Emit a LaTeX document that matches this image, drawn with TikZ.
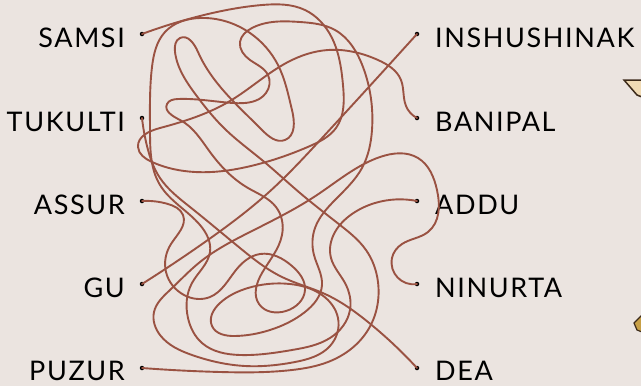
\documentclass[tikz,border=0pt]{standalone}
\usepackage{fontspec}
\setmainfont{Lato}[LetterSpace=6]
\usetikzlibrary{hobby}
\definecolor{bg}{RGB}{235,228,224}
\definecolor{wire}{RGB}{154,82,66}
\definecolor{darkedge}{RGB}{60,42,26}
\definecolor{beige}{RGB}{240,218,180}
\definecolor{gold}{RGB}{200,160,70}
\begin{document}
\begin{tikzpicture}[x=1pt,y=-1pt,
  wirestyle/.style={draw=wire, line width=1.9pt, line cap=round, line join=round, use Hobby shortcut},
  dotstyle/.style={circle, fill=black, inner sep=0pt, minimum size=4.5pt},
  lbl/.style={font=\fontsize{27}{30}\selectfont, text=black, inner sep=0pt, text depth=0pt}]
\fill[bg] (0,0) rectangle (641,386);
\useasboundingbox (0,0) rectangle (641,386);
% dots
\node[dotstyle] (samsi) at (142,34) {};
\node[dotstyle] (tukulti) at (142,118) {};
\node[dotstyle] (assur) at (142,201) {};
\node[dotstyle] (gu) at (142,284) {};
\node[dotstyle] (puzur) at (142,368) {};
\node[dotstyle] (inshu) at (417,34) {};
\node[dotstyle] (banipal) at (417,118) {};
\node[dotstyle] (addu) at (417,201) {};
\node[dotstyle] (ninurta) at (417,284) {};
\node[dotstyle] (dea) at (417,368) {};
% labels
\node[lbl, anchor=base east] (samsiL) at (125,47) {SAMSI};
\node[lbl, anchor=base east] (tukultiL) at (125,131) {TUKULTI};
\node[lbl, anchor=base east] (assurL) at (125,214) {ASSUR};
\node[lbl, anchor=base east] (guL) at (125,297) {GU};
\node[lbl, anchor=base east] (puzurL) at (125,380) {PUZUR};
\node[lbl, anchor=base west] (inshuL) at (435,47) {INSHUSHINAK};
\node[lbl, anchor=base west] (banipalL) at (435,131) {BANIPAL};
\node[lbl, anchor=base west] (adduL) at (435,214) {ADDU};
\node[lbl, anchor=base west] (ninurtaL) at (435,297) {NINURTA};
\node[lbl, anchor=base west] (deaL) at (435,380) {DEA};
% wires
% SAMSI -> BANIPAL
\draw[wirestyle] (samsi.center) .. (200,16) .. (262,5) .. (305,10) .. (332,38) .. (343,85) .. (336,128) .. (310,146) .. (255,165) .. (195,172) .. (152,162) .. (138,147) .. (160,128) .. (230,101) .. (288,62) .. (328,50) .. (378,60) .. (401,80) .. (406,106) .. (banipal.center);
% TUKULTI -> DEA
\draw[wirestyle] (tukulti.center) .. (147,146) .. (160,178) .. (190,207) .. (240,248) .. (282,277) .. (325,294) .. (368,322) .. (dea.center);
% ASSUR -> NINURTA
\draw[wirestyle] (assur.center) .. (168,204) .. (183,215) .. (171,244) .. (166,272) .. (184,295) .. (210,297) .. (236,270) .. (260,254) .. (292,266) .. (305,290) .. (286,311) .. (259,304) .. (262,273) .. (282,235) .. (276,207) .. (248,188) .. (210,152) .. (180,120) .. (167,104) .. (178,99) .. (233,103) .. (266,93) .. (268,75) .. (250,60) .. (240,42) .. (252,28) .. (300,22) .. (335,30) .. (363,67) .. (372,130) .. (362,168) .. (335,200) .. (315,228) .. (314,255) .. (322,285) .. (305,312) .. (270,330) .. (235,336) .. (212,326) .. (220,303) .. (248,288) .. (290,284) .. (322,295) .. (338,318) .. (330,346) .. (295,362) .. (245,366) .. (192,355) .. (160,335) .. (154,312) .. (170,290) .. (200,262) .. (250,232) .. (317,195) .. (380,157) .. (418,158) .. (437,190) .. (428,232) .. (402,244) .. (392,258) .. (ninurta.center);
% GU -> INSHUSHINAK
\draw[wirestyle] (gu.center) .. (205,242) .. (268,193) .. (323,137) .. (inshu.center);
% PUZUR -> ADDU
\draw[wirestyle] (puzur.center) .. (220,372) .. (292,370) .. (328,362) .. (368,330) .. (378,282) .. (366,250) .. (340,225) .. (300,193) .. (262,160) .. (226,130) .. (196,95) .. (175,52) .. (180,38) .. (198,52) .. (232,100) .. (262,130) .. (285,140) .. (292,110) .. (278,65) .. (250,33) .. (200,18) .. (165,32) .. (152,67) .. (150,130) .. (160,185) .. (200,225) .. (210,252) .. (192,283) .. (188,318) .. (202,343) .. (240,355) .. (292,350) .. (330,338) .. (350,310) .. (345,283) .. (331,258) .. (335,232) .. (352,214) .. (375,203) .. (addu.center);
% edge ornaments
\filldraw[fill=beige, draw=darkedge, line width=1.5pt] (624,80) -- (642,80) -- (642,97) -- (637,95) -- cycle;
\filldraw[fill=gold, draw=darkedge, line width=1.2pt] (634,323) -- (642,315) -- (642,332) -- (637,330) -- cycle;
\end{tikzpicture}
\end{document}
